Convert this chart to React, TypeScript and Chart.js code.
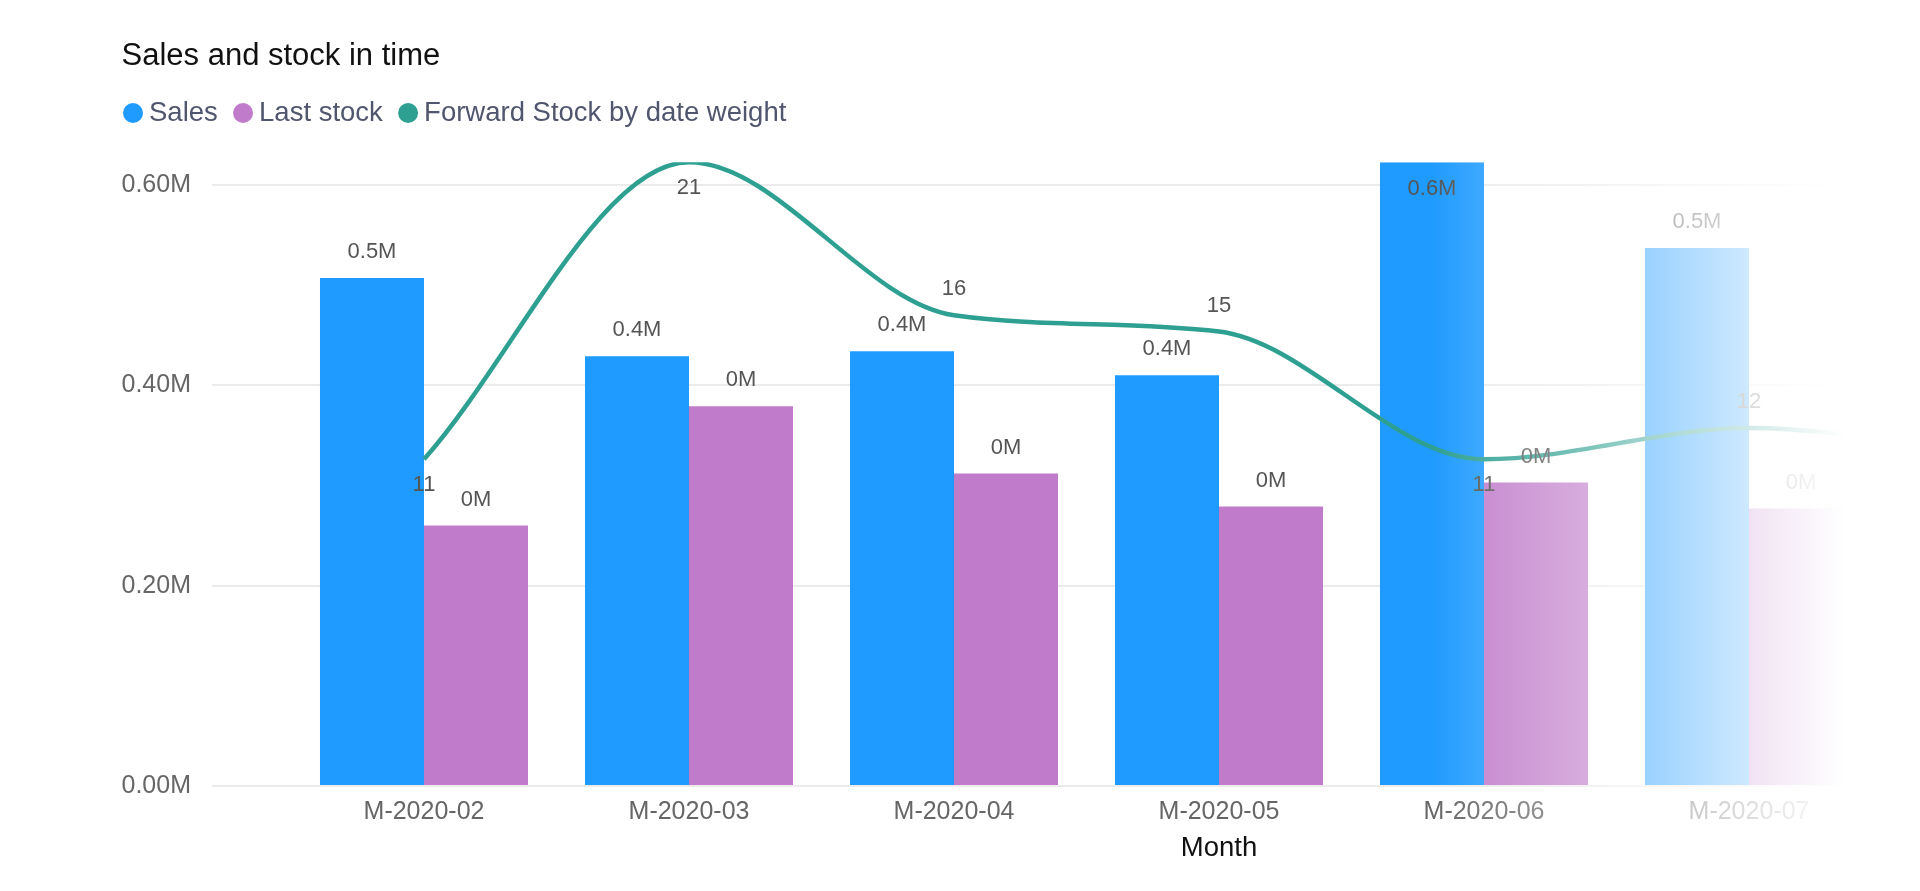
import React, { useEffect, useRef } from "react";
import { Chart, registerables } from "chart.js";

Chart.register(...registerables);

// ---------- data ----------
const categories = ["M-2020-02", "M-2020-03", "M-2020-04", "M-2020-05", "M-2020-06", "M-2020-07", "M-2020-08"];
const salesValues: (number | null)[] = [0.507, 0.429, 0.434, 0.41, 0.6227, 0.537, null];
const lastStockValues: (number | null)[] = [0.26, 0.379, 0.312, 0.279, 0.303, 0.277, null];
const forwardStockValues: (number | null)[] = [11, 21, 15.85, 15.3, 11, 12.05, 11];
const yTickValues = [0, 0.2, 0.4, 0.6];
const lineLabelSide = ["below", "below", "above", "above", "below", "above", "above"];

// ---------- style ----------
const FONT = "'Liberation Sans', Arial, Helvetica, sans-serif";
const SALES_COLOR = "#1f9bff";
const STOCK_COLOR = "#c07cca";
const LINE_COLOR = "#2ea092";
const X_MIN = -0.8;
const X_MAX = 5.5;

const toXY = (arr: (number | null)[]) => arr.map((y, i) => ({ x: i, y }));

const extrasPlugin = {
  id: "extras",
  afterLayout(chart: any) {
    const lg = chart.legend;
    if (lg) {
      lg.left -= 13.75;
      lg.right -= 13.75;
      lg.top -= 25.4;
      lg.bottom -= 25.4;
    }
  },
  afterDatasetsDraw(chart: any) {
    const ctx = chart.ctx;
    const area = chart.chartArea;
    ctx.save();
    ctx.font = `22px ${FONT}`;
    ctx.fillStyle = "#555555";
    ctx.textAlign = "center";
    ctx.textBaseline = "middle";
    chart.data.datasets.forEach((ds: any, di: number) => {
      const meta = chart.getDatasetMeta(di);
      meta.data.forEach((el: any, i: number) => {
        const raw = ds.data[i];
        if (!raw || raw.y === null || raw.y === undefined) return;
        if (el.x < area.left || el.x > area.right) return;
        const v = raw.y as number;
        let text = "";
        let y = el.y;
        if (ds.type === "line") {
          text = Math.round(v).toString();
          y = lineLabelSide[i] === "below" ? el.y + 26 : el.y - 26;
        } else {
          text = ds.labelKind === "sales" ? v.toFixed(1) + "M" : v.toFixed(0) + "M";
          y = el.y - 26;
          if (y - 11 < area.top) y = el.y + 27;
        }
        ctx.fillText(text, el.x, y);
      });
    });
    // axis name, centred on the full category range
    const xs = chart.scales.x;
    ctx.font = `27.5px ${FONT}`;
    ctx.fillStyle = "#111111";
    ctx.fillText("Month", xs.getPixelForValue((categories.length - 1) / 2), xs.bottom + 23);
    ctx.restore();
  },
  afterDraw(chart: any) {
    const ctx = chart.ctx;
    const xs = chart.scales.x;
    const x0 = xs.getPixelForValue(3.8);
    const x1 = xs.getPixelForValue(5.36);
    const g = ctx.createLinearGradient(x0, 0, x1, 0);
    g.addColorStop(0, "rgba(255,255,255,0)");
    g.addColorStop(0.135, "rgba(255,255,255,0.15)");
    g.addColorStop(0.385, "rgba(255,255,255,0.38)");
    g.addColorStop(0.519, "rgba(255,255,255,0.55)");
    g.addColorStop(0.769, "rgba(255,255,255,0.78)");
    g.addColorStop(1, "rgba(255,255,255,1)");
    ctx.save();
    ctx.fillStyle = g;
    ctx.fillRect(x0, 0, chart.width - x0, chart.height);
    ctx.restore();
  },
};

export default function App() {
  const canvasRef = useRef<HTMLCanvasElement | null>(null);

  useEffect(() => {
    if (!canvasRef.current) return;
    Chart.defaults.font.family = FONT;
    const yMax = Math.max(...(salesValues.filter((v) => v !== null) as number[]));
    const y2Max = Math.max(...(forwardStockValues.filter((v) => v !== null) as number[]));

    const chart = new Chart(canvasRef.current, {
      type: "bar",
      data: {
        datasets: [
          {
            type: "bar",
            label: "Sales",
            labelKind: "sales",
            data: toXY(salesValues),
            backgroundColor: SALES_COLOR,
            borderWidth: 0,
            yAxisID: "y",
            categoryPercentage: 0.785,
            barPercentage: 1,
          } as any,
          {
            type: "bar",
            label: "Last stock",
            labelKind: "stock",
            data: toXY(lastStockValues),
            backgroundColor: STOCK_COLOR,
            borderWidth: 0,
            yAxisID: "y",
            categoryPercentage: 0.785,
            barPercentage: 1,
          } as any,
          {
            type: "line",
            label: "Forward Stock by date weight",
            data: toXY(forwardStockValues),
            borderColor: LINE_COLOR,
            backgroundColor: LINE_COLOR,
            borderWidth: 4.5,
            pointRadius: 0,
            pointHoverRadius: 0,
            cubicInterpolationMode: "monotone",
            fill: false,
            yAxisID: "y2",
            order: -1,
          } as any,
        ],
      },
      options: {
        animation: false,
        responsive: true,
        maintainAspectRatio: false,
        events: [],
        layout: { padding: { left: 113.5, right: 30.5, top: 0, bottom: 58 } },
        plugins: {
          tooltip: { enabled: false },
          title: {
            display: true,
            text: "Sales and stock in time",
            align: "start",
            color: "#111111",
            font: { size: 31, weight: "normal", family: FONT },
            padding: { top: 30, bottom: 26.5 },
          },
          legend: {
            display: true,
            position: "top",
            align: "start",
            labels: {
              usePointStyle: true,
              pointStyle: "circle",
              boxWidth: 4.5,
              boxHeight: 14.14,
              padding: 23,
              color: "#50566d",
              font: { size: 27.5, family: FONT },
              sort: (a: any, b: any) => a.datasetIndex - b.datasetIndex,
              generateLabels: (c: any) => {
                const items = (Chart.defaults.plugins.legend.labels as any).generateLabels(c);
                items.forEach((it: any) => {
                  it.lineWidth = 0;
                  it.strokeStyle = "rgba(0,0,0,0)";
                });
                return items;
              },
            },
          },
        },
        scales: {
          x: {
            type: "linear",
            min: X_MIN,
            max: X_MAX,
            offset: false,
            grid: { display: false, drawTicks: false },
            border: { display: false },
            afterBuildTicks: (axis: any) => {
              axis.ticks = categories
                .map((_, i) => ({ value: i }))
                .filter((t) => t.value >= axis.min && t.value <= axis.max);
            },
            afterFit: (axis: any) => {
              axis.height = 39;
            },
            ticks: {
              autoSkip: false,
              maxRotation: 0,
              padding: 11.5,
              color: "#666666",
              font: { size: 25, family: FONT },
              callback: (v: any) => categories[Math.round(Number(v))] ?? "",
            },
          },
          y: {
            type: "linear",
            position: "left",
            min: 0,
            max: yMax,
            grid: { color: "#ebebeb", lineWidth: 2, drawTicks: false },
            border: { display: false },
            afterBuildTicks: (axis: any) => {
              axis.ticks = yTickValues.map((v) => ({ value: v }));
            },
            afterFit: (axis: any) => {
              axis.width = 90.5;
            },
            ticks: {
              padding: 21,
              color: "#666666",
              font: { size: 25, family: FONT },
              callback: (v: any) => Number(v).toFixed(2) + "M",
            },
          },
          y2: {
            type: "linear",
            position: "right",
            display: false,
            min: 0,
            max: y2Max,
            grid: { display: false },
          },
        },
      } as any,
      plugins: [extrasPlugin],
    });

    return () => chart.destroy();
  }, []);

  return (
    <div style={{ position: "relative", width: "1904px", height: "875px" }}>
      <canvas ref={canvasRef} />
    </div>
  );
}
